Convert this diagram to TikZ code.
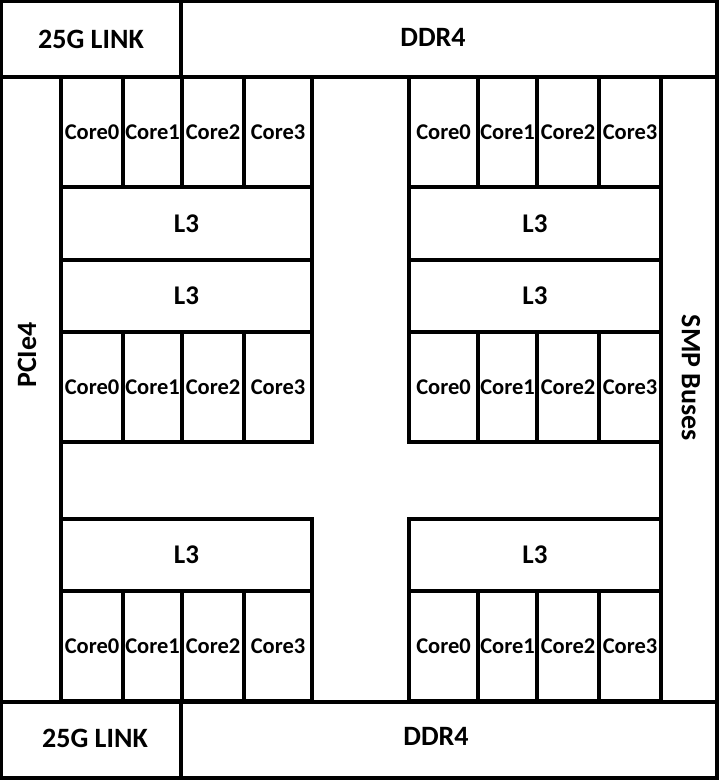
\documentclass[tikz,border=0pt]{standalone}
\usepackage{fontspec}
\setmainfont{Carlito}
\usepackage{tikz}
\usetikzlibrary{positioning,calc}

\tikzset{
  blk/.style={draw, line width=3.5pt, rectangle, inner sep=0pt, outer sep=0pt, anchor=north west},
  corecell/.style={blk, font=\bfseries\fontsize{22.5}{22.5}\selectfont, minimum height=110pt},
  cachecell/.style={blk, font=\bfseries\fontsize{27}{27}\selectfont},
  biglbl/.style={font=\bfseries\fontsize{28}{28}\selectfont, inner sep=0pt}
}

\begin{document}
\begin{tikzpicture}[x=1pt, y=-1pt]
  \useasboundingbox (0,0) rectangle (719,780);
  % outer bands
  \node[blk, minimum width=180pt, minimum height=76pt] (linkT) at (1,1) {};
  \node[blk, minimum width=536pt, minimum height=76pt] (ddrT) at (181,1) {};
  \node[blk, minimum width=180pt, minimum height=76pt] (linkB) at (1,702) {};
  \node[blk, minimum width=536pt, minimum height=76pt] (ddrB) at (181,702) {};
  \node[blk, minimum width=60pt, minimum height=625pt] (pcie) at (1,77) {};
  \node[blk, minimum width=56pt, minimum height=625pt] (smp) at (661,77) {};
  \node[biglbl] (linkTl) at ($(linkT.center)+(0,0)$) {25G LINK};
  \node[biglbl] (ddrTl) at ($(ddrT.center)+(-16,-2)$) {DDR4};
  \node[biglbl] (linkBl) at ($(linkB.center)+(4,-2)$) {25G LINK};
  \node[biglbl] (ddrBl) at ($(ddrB.center)+(-13,-4)$) {DDR4};
  \node[biglbl, rotate=90] (pciel) at (27,355) {PCIe4};
  \node[biglbl, rotate=-90] (smpl) at (691,378) {SMP Buses};

  % core rows
  \foreach \r/\yy in {0/77, 1/332, 2/591} {
    \foreach \c/\xa/\xb in {0/61/123, 1/123/182, 2/182/244, 3/244/312}
      \node[corecell, minimum width={\xb pt-\xa pt}] (lc-\r-\c) at (\xa,\yy) {Core\c};
    \foreach \c/\xa/\xb in {0/409/478, 1/478/537, 2/537/599, 3/599/661}
      \node[corecell, minimum width={\xb pt-\xa pt}] (rc-\r-\c) at (\xa,\yy) {Core\c};
  }

  % L3 caches
  \node[cachecell, minimum width=251pt, minimum height=73pt] (lL3a) at (61,187) {L3};
  \node[cachecell, minimum width=251pt, minimum height=72pt] (lL3b) at (61,260) {L3};
  \node[cachecell, minimum width=251pt, minimum height=72pt] (lL3c) at (61,519) {L3};
  \node[cachecell, minimum width=252pt, minimum height=73pt] (rL3a) at (409,187) {L3};
  \node[cachecell, minimum width=252pt, minimum height=72pt] (rL3b) at (409,260) {L3};
  \node[cachecell, minimum width=252pt, minimum height=72pt] (rL3c) at (409,519) {L3};
\end{tikzpicture}
\end{document}
